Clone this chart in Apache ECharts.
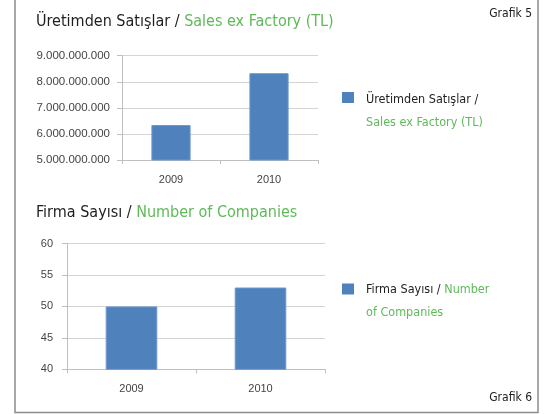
<!DOCTYPE html>
<html>
<head>
<meta charset="utf-8">
<script src="https://cdn.jsdelivr.net/npm/echarts@6/dist/echarts.min.js"></script>
<style>html,body{margin:0;padding:0;background:#fff;}#c{width:550px;height:414px;}</style>
</head>
<body>
<div id="c"></div>
<script>
// ---- data ----
const years = ['2009', '2010'];
const salesValues = [6340000000, 8330000000];
const companyValues = [50, 53];
const salesAxis = { min: 5000000000, max: 9000000000, interval: 1000000000 };
const companyAxis = { min: 40, max: 60, interval: 5 };
const title1Tr = 'Üretimden Satışlar / ';
const title1En = 'Sales ex Factory (TL)';
const title2Tr = 'Firma Sayısı / ';
const title2En = 'Number of Companies';
const legend2Tr = 'Firma Sayısı / ';
const legend2En1 = 'Number';
const legend2En2 = 'of Companies';
const fig1Label = 'Grafik 5';
const fig2Label = 'Grafik 6';

const BAR = '#4f81bd';
const GREEN = '#5fb95a';
const DARK = '#1e1e1e';
const F1 = '"DejaVu Sans Condensed", "DejaVu Sans", sans-serif';
const AX_FONT = '"Liberation Sans", sans-serif';
const TS = 16;   // title size
const LS = 12.5; // legend size

function fmtDots(v) {
  return String(v).replace(/\B(?=(\d{3})+(?!\d))/g, '.');
}

const chart = echarts.init(document.getElementById('c'), null, { renderer: 'canvas' });

function xAxisCfg(gridIndex, margin) {
  return {
    type: 'category', gridIndex: gridIndex, data: years,
    axisLine: { show: true, lineStyle: { color: '#bfbfbf', width: 1 } },
    axisTick: { show: true, length: 4, lineStyle: { color: '#bfbfbf' } },
    axisLabel: { color: '#444444', fontFamily: AX_FONT, fontSize: 11, margin: margin }
  };
}
function yAxisCfg(gridIndex, ax, margin, size, fmt) {
  return {
    type: 'value', gridIndex: gridIndex, min: ax.min, max: ax.max, interval: ax.interval,
    axisLine: { show: true, lineStyle: { color: '#bfbfbf', width: 1 } },
    axisTick: { show: true, length: 5, lineStyle: { color: '#bfbfbf' } },
    splitLine: { show: true, lineStyle: { color: '#d4d4d4', width: 1 } },
    axisLabel: { color: '#444444', fontFamily: AX_FONT, fontSize: size, margin: margin, formatter: fmt }
  };
}
function richTitle(tr, en) {
  return {
    text: '{a|' + tr + '}{b|' + en + '}',
    textStyle: { rich: {
      a: { fontFamily: F1, fontWeight: 'normal', fontSize: TS, color: DARK },
      b: { fontFamily: F1, fontWeight: 'normal', fontSize: TS, color: GREEN }
    } }
  };
}

const option = {
  backgroundColor: '#ffffff',
  animation: false,
  title: [
    Object.assign({ left: 36, top: 13.5, padding: 0 }, richTitle(title1Tr, title1En)),
    Object.assign({ left: 36, top: 205, padding: 0 }, richTitle(title2Tr, title2En))
  ],
  grid: [
    { left: 122, right: 232, top: 55.7, bottom: 254, containLabel: false },
    { left: 67, right: 225, top: 243.5, bottom: 44.7, containLabel: false }
  ],
  xAxis: [xAxisCfg(0, 14), xAxisCfg(1, 14)],
  yAxis: [
    yAxisCfg(0, salesAxis, 12, 11.5, fmtDots),
    yAxisCfg(1, companyAxis, 14, 11, fmtDots)
  ],
  series: [
    { type: 'bar', xAxisIndex: 0, yAxisIndex: 0, data: salesValues, barCategoryGap: '60%',
      itemStyle: { color: BAR, borderColor: '#6d98cc', borderWidth: 1 } },
    { type: 'bar', xAxisIndex: 1, yAxisIndex: 1, data: companyValues, barCategoryGap: '60%',
      itemStyle: { color: BAR, borderColor: '#6d98cc', borderWidth: 1 } }
  ],
  graphic: [
    { type: 'rect', shape: { x: 15, y: -5, width: 523, height: 417.5 },
      style: { fill: 'none', stroke: '#8c8c8c', lineWidth: 1.5 }, silent: true },
    { type: 'text', x: 532, y: 13.5, style: { text: fig1Label, fontFamily: F1, fontSize: 12,
      fill: '#222', align: 'right', verticalAlign: 'middle' } },
    { type: 'text', x: 532, y: 398, style: { text: fig2Label, fontFamily: F1, fontSize: 12,
      fill: '#222', align: 'right', verticalAlign: 'middle' } },
    // legend 1
    { type: 'rect', shape: { x: 342, y: 92, width: 12, height: 11 }, style: { fill: BAR } },
    { type: 'text', x: 366, y: 99.5, style: { text: title1Tr.trim(), fontFamily: F1, fontSize: LS,
      fill: DARK, verticalAlign: 'middle' } },
    { type: 'text', x: 366, y: 123, style: { text: title1En, fontFamily: F1, fontSize: LS,
      fill: GREEN, verticalAlign: 'middle' } },
    // legend 2
    { type: 'rect', shape: { x: 342, y: 283.5, width: 12, height: 11 }, style: { fill: BAR } },
    { type: 'text', x: 366, y: 290, style: {
      text: '{a|' + legend2Tr + '}{b|' + legend2En1 + '}',
      verticalAlign: 'middle',
      rich: {
        a: { fontFamily: F1, fontSize: LS, fill: DARK, color: DARK },
        b: { fontFamily: F1, fontSize: LS, fill: GREEN, color: GREEN }
      } } },
    { type: 'text', x: 366, y: 313, style: { text: legend2En2, fontFamily: F1, fontSize: LS,
      fill: GREEN, verticalAlign: 'middle' } }
  ]
};
chart.setOption(option);
</script>
</body>
</html>
